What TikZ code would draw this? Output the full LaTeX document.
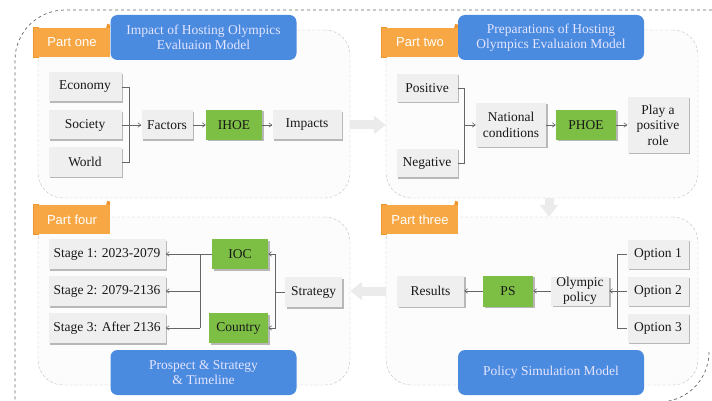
\documentclass[tikz,border=0pt]{standalone}
\usepackage{fontspec}
\setmainfont{Liberation Serif}
\newfontfamily\tabfont{Liberation Sans}
\usetikzlibrary{arrows.meta,shadows}
\definecolor{boxgray}{HTML}{EFEFEF}
\definecolor{hostgreen}{HTML}{7DBE45}
\definecolor{titleblue}{HTML}{4A8BDF}
\definecolor{taborange}{HTML}{F7A845}
\definecolor{tabdark}{HTML}{EE9630}
\definecolor{linegray}{HTML}{666666}
\begin{document}
\begin{tikzpicture}[x=1pt,y=-1pt,
    box/.style={fill=boxgray,inner sep=1pt,align=center,text=black!90,font=\fontsize{13.5}{15.5}\selectfont,
      drop shadow={shadow xshift=1.5pt,shadow yshift=-1.5pt,fill=black!28,opacity=1}},
    gbox/.style={box,fill=hostgreen},
    panel/.style={draw=black!25,dash pattern=on 3pt off 2pt,fill=black!1,rounded corners=25,minimum width=312,minimum height=168},
    tab/.style={fill=taborange,text=white,font=\tabfont\fontsize{13}{14}\selectfont,minimum width=76,minimum height=29,inner sep=0},
    title/.style={fill=titleblue,rounded corners=7,text=white!90!blue,align=center,font=\fontsize{13.5}{15}\selectfont,minimum width=186,minimum height=45,inner sep=0},
    line/.style={draw=linegray,line width=0.6pt},
    arr/.style={line,-{Straight Barb[length=3pt,width=4.5pt]}},
    bigarr/.style={draw=black!8,line width=9pt,-{Triangle[length=12pt,width=18pt]}},
    outer/.style={draw=black!60,dashed,line width=0.7pt}]
  \useasboundingbox (0,0) rectangle (712,401);
  \clip (0,0) rectangle (712,401);
  \draw[outer,rounded corners=50] (712,10) -- (15,10) -- (15,420);
  \draw[outer,rounded corners=50] (709,352) -- (709,402) -- (620,402);
  \node[panel] (p1) at (194,114) {};
  \node[panel] (p2) at (542,114) {};
  \node[panel] (p4) at (194,301) {};
  \node[panel] (p3) at (542,301) {};
  \fill[tabdark] (33,27) rectangle (39,58);
  \fill[tabdark] (381,27) rectangle (387,58);
  \fill[tabdark] (33,204) rectangle (39,235);
  \fill[tabdark] (381,204) rectangle (387,235);
  \node[tab] (t1) at (72,42.5) {Part one};
  \node[tab] (t2) at (420,42.5) {Part two};
  \node[tab] (t4) at (72,219.5) {Part four};
  \node[tab] (t3) at (420,219.5) {Part three};
  \foreach \t in {t1,t2,t4,t3}
    \fill[tabdark] ([xshift=-4pt]\t.north east) -- ++(1,-4) -- ++(3,1) -- (\t.north east) -- cycle;
  \node[title] (h1) at (203.5,37.5) {Impact of Hosting Olympics\\Evaluaion Model};
  \node[title] (h2) at (551,37.5) {Preparations of Hosting\\Olympics Evaluaion Model};
  \node[title] (h4) at (203.5,372.5) {Prospect \& Strategy\\\& Timeline};
  \node[title] (h3) at (551,372.5) {Policy Simulation Model};
  \node[box,minimum width=73,minimum height=29] (eco) at (85,87) {Economy};
  \node[box,minimum width=73,minimum height=29] (soc) at (85,125) {Society};
  \node[box,minimum width=73,minimum height=29] (wor) at (85,162) {World};
  \node[box,minimum width=51,minimum height=29] (fac) at (167,125) {Factors};
  \node[gbox,minimum width=56,minimum height=30] (ihoe) at (234,125) {IHOE};
  \node[box,minimum width=69,minimum height=29] (imp) at (307,125) {Impacts};
  \draw[line] (eco.east) -- ++(8,0) coordinate (b1) |- (wor.east);
  \draw[arr] (soc.east) -- (fac.west);
  \draw[arr] (fac) -- (ihoe);
  \draw[arr] (ihoe) -- (imp);
  \node[box,minimum width=61,minimum height=28] (pos) at (427,88) {Positive};
  \node[box,minimum width=61,minimum height=28] (neg) at (427,163) {Negative};
  \node[box,minimum width=70,minimum height=44] (nat) at (511,125) {National\\conditions};
  \node[gbox,minimum width=60,minimum height=30] (phoe) at (586,125) {PHOE};
  \node[box,minimum width=61,minimum height=56] (role) at (658,125) {Play a\\positive\\role};
  \draw[line] (pos.east) -- ++(7,0) coordinate (b2) |- (neg.east);
  \draw[arr] (b2 |- nat.west) -- (nat.west);
  \draw[arr] (nat) -- (phoe);
  \draw[arr] (phoe) -- (role);
  \node[box,minimum width=117,minimum height=30] (st1) at (107,254) {Stage 1: 2023-2079};
  \node[box,minimum width=117,minimum height=30] (st2) at (107,291) {Stage 2: 2079-2136};
  \node[box,minimum width=117,minimum height=30] (st3) at (107,328) {Stage 3: After 2136};
  \node[gbox,minimum width=56,minimum height=30] (ioc) at (240,254) {IOC};
  \node[gbox,minimum width=59,minimum height=30] (cty) at (238.5,328) {Country};
  \node[box,minimum width=57,minimum height=30] (str) at (313.5,292) {Strategy};
  \draw[line] (ioc.west) -- ++(-12,0) coordinate (b4) -- (b4 |- st3.east);
  \foreach \s in {st1,st2,st3}
    \draw[arr] (b4 |- \s.east) -- (\s.east);
  \draw[line] (str.west) -- ++(-10,0) coordinate (b5);
  \draw[arr] (b5) |- (ioc.east);
  \draw[arr] (b5) |- (cty.east);
  \node[box,minimum width=61,minimum height=29] (opt1) at (658,254) {Option 1};
  \node[box,minimum width=61,minimum height=29] (opt2) at (658,291) {Option 2};
  \node[box,minimum width=61,minimum height=29] (opt3) at (658,328) {Option 3};
  \node[box,minimum width=58,minimum height=29,font=\fontsize{13.5}{14.5}\selectfont] (pol) at (580,291) {Olympic\\policy};
  \node[gbox,minimum width=50,minimum height=31] (ps) at (508,291) {PS};
  \node[box,minimum width=67,minimum height=31] (res) at (430.5,291) {Results};
  \draw[line] (opt1.west) -- ++(-10,0) coordinate (b3) |- (opt3.west);
  \draw[arr] (opt2.west) -- (pol.east);
  \draw[arr] (pol) -- (ps);
  \draw[arr] (ps) -- (res);
  \draw[bigarr] (p1.east |- imp) -- (p2.west |- imp);
  \draw[bigarr] ([xshift=7pt]p2.south) -- ([xshift=7pt]p3.north);
  \draw[bigarr] (p3.west |- res) -- (p4.east |- res);
\end{tikzpicture}
\end{document}
